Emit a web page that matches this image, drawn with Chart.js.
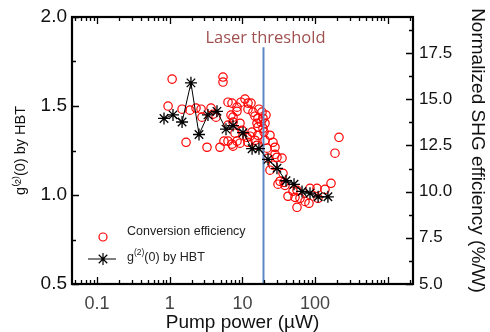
<!DOCTYPE html>
<html>
<head>
<meta charset="utf-8">
<script src="https://cdn.jsdelivr.net/npm/chart.js@4/dist/chart.umd.min.js"></script>
<style>
  html, body { margin: 0; padding: 0; background: #fff; }
  canvas { display: block; }
</style>
</head>
<body>
<canvas id="myCanvas" width="490" height="332"></canvas>
<script>
'use strict';

// g2(0) measured by HBT (left axis)
const hbtPower = [0.835, 1.11, 1.48, 1.96, 2.53, 3.36, 4.47, 5.95, 7.43, 10.2, 13.6, 16.9, 22.5, 29.9, 39.8, 51.3, 66.1, 85.1, 110, 150];
const hbtG2 = [1.43, 1.45, 1.41, 1.63, 1.34, 1.45, 1.47, 1.37, 1.39, 1.35, 1.26, 1.26, 1.20, 1.15, 1.08, 1.06, 1.02, 1.01, 0.99, 0.99];

// conversion efficiency (right axis)
const shgPower = [
  1.08, 0.95, 1.48, 1.68, 1.90, 2.30, 2.70, 2.78, 3.26, 3.70, 3.94, 4.34, 4.92, 5.41, 5.41, 6.34, 5.58,
  7.43, 7.19, 8.43, 9.57, 10.86, 11.94, 11.94, 13.13, 8.43, 6.97, 7.43, 6.34, 9.27, 9.87, 7.91, 6.34,
  7.19, 8.43, 7.43, 9.27, 11.94, 11.57, 12.72, 13.55,
  13.99, 14.90, 16.39, 16.92, 18.60, 19.20, 21.12, 15.88, 18.03, 16.39, 20.46, 19.20, 19.82, 16.39,
  23.97, 20.46, 14.90, 15.88, 26.37, 28.08, 21.80, 28.08, 22.50, 29.92, 35.05, 26.37, 23.97,
  36.19, 32.90, 37.35, 30.9, 42.39, 49.66, 56.36, 61.98, 72.62, 85.09, 82.4, 106.2, 109.6, 136.8,
  165.5, 38.55, 52.90, 56.36, 187.8, 213.2
];
const shgEff = [
  16.09, 14.63, 14.46, 12.67, 14.41, 14.52, 14.46, 14.03, 12.40, 14.52, 14.19, 14.03, 12.40, 16.20, 15.93, 14.84, 12.73,
  14.03, 14.79, 14.57, 14.84, 15.01, 14.79, 14.46, 14.79, 14.35, 14.14, 13.76, 13.60, 13.70, 13.32, 13.16, 12.73,
  12.57, 12.73, 12.46, 12.62, 12.67, 12.94, 13.00, 13.22,
  14.30, 14.08, 13.97, 14.46, 14.30, 13.97, 14.14, 13.70, 13.76, 13.49, 13.70, 13.43, 13.22, 13.05,
  13.05, 12.78, 12.78, 12.51, 12.67, 12.40, 12.35, 12.02, 11.81, 11.86, 11.81, 11.43, 11.16,
  10.99, 10.56, 10.50, 10.40, 9.75, 10.02, 9.15, 9.64, 9.47, 10.18, 9.37, 10.18, 9.64, 10.12,
  10.45, 10.34, 9.69, 10.07, 12.08, 12.94
];

const xTicks = [0.1, 1, 10, 100];
const leftTicks = [0.5, 1.0, 1.5, 2.0];
const rightTicks = [5, 7.5, 10, 12.5, 15, 17.5];
const thresholdPower = 19.5;
const thresholdG2 = [0.5, 1.83];

const fontFamily = '"Liberation Sans", Arial, Helvetica, sans-serif';
Chart.defaults.font.family = fontFamily;

function toPoints(xs, ys) {
  let pts = [];
  for (let i = 0; i < xs.length; i++) {
    pts.push({ x: xs[i], y: ys[i] });
  }
  return pts;
}

// box frame with inward ticks on all four sides
const frameTicks = {
  id: 'frameTicks',
  afterDatasetsDraw(chart) {
    const ctx = chart.ctx;
    const a = chart.chartArea;
    const xs = chart.scales.x;
    const yl = chart.scales.y;
    const yr = chart.scales.y2;
    ctx.save();
    ctx.strokeStyle = '#000';
    ctx.lineWidth = 1.3;
    ctx.beginPath();
    for (let d = 0.01; d < 10000; d *= 10) {
      for (let m = 1; m < 10; m++) {
        const v = m * d;
        if (v < xs.min || v > xs.max) continue;
        const px = Math.round(xs.getPixelForValue(v)) + 0.5;
        const len = m === 1 ? 7 : 4;
        ctx.moveTo(px, a.bottom);
        ctx.lineTo(px, a.bottom - len);
        ctx.moveTo(px, a.top);
        ctx.lineTo(px, a.top + len);
      }
    }
    for (let v = 0.5; v <= 2.0001; v += 0.25) {
      const py = Math.round(yl.getPixelForValue(v)) + 0.5;
      const len = Math.abs(v * 2 - Math.round(v * 2)) < 0.01 ? 7 : 4;
      ctx.moveTo(a.left, py);
      ctx.lineTo(a.left + len, py);
    }
    for (let v = 5; v <= yr.max; v += 1.25) {
      const py = Math.round(yr.getPixelForValue(v)) + 0.5;
      const len = Math.abs(v / 2.5 - Math.round(v / 2.5)) < 0.01 ? 7 : 4;
      ctx.moveTo(a.right, py);
      ctx.lineTo(a.right - len, py);
    }
    ctx.stroke();
    ctx.lineWidth = 2.2;
    ctx.strokeRect(a.left, a.top, a.right - a.left, a.bottom - a.top);

    // laser threshold label
    const tx = xs.getPixelForValue(thresholdPower);
    ctx.fillStyle = '#a0504f';
    ctx.font = '16.5px "Open Sans", "Liberation Sans", sans-serif';
    ctx.textAlign = 'center';
    ctx.textBaseline = 'alphabetic';
    ctx.fillText('Laser threshold', tx + 2, a.top + 26);

    // legend inside plot
    const lx = a.left + 31;
    ctx.strokeStyle = '#ff0000';
    ctx.lineWidth = 1.2;
    ctx.beginPath();
    ctx.arc(lx, a.top + 220, 4, 0, Math.PI * 2);
    ctx.stroke();

    const sy = a.top + 242;
    ctx.strokeStyle = '#000';
    ctx.lineWidth = 1.2;
    ctx.beginPath();
    ctx.moveTo(lx - 15, sy);
    ctx.lineTo(lx + 13, sy);
    const r = 6;
    const k = r * Math.SQRT1_2;
    ctx.moveTo(lx, sy - r); ctx.lineTo(lx, sy + r);
    ctx.moveTo(lx - k, sy - k); ctx.lineTo(lx + k, sy + k);
    ctx.moveTo(lx - k, sy + k); ctx.lineTo(lx + k, sy - k);
    ctx.stroke();

    ctx.fillStyle = '#222';
    ctx.textAlign = 'left';
    ctx.textBaseline = 'middle';
    ctx.font = '12.5px ' + fontFamily;
    ctx.fillText('Conversion efficiency', a.left + 55, a.top + 215);
    let tx2 = a.left + 55;
    ctx.fillText('g', tx2, sy - 1);
    tx2 += ctx.measureText('g').width;
    ctx.font = '8.5px ' + fontFamily;
    ctx.fillText('(2)', tx2, sy - 6);
    tx2 += ctx.measureText('(2)').width;
    ctx.font = '12.5px ' + fontFamily;
    ctx.fillText('(0) by HBT', tx2, sy - 1);
    ctx.restore();
  }
};

const data = {
  datasets: [
    {
      label: 'g(2)(0) by HBT',
      data: toPoints(hbtPower, hbtG2),
      yAxisID: 'y',
      showLine: true,
      borderColor: '#000',
      borderWidth: 1,
      pointStyle: 'star',
      pointRadius: 6,
      pointBorderWidth: 1.3,
      pointBorderColor: '#000',
      pointBackgroundColor: '#000'
    },
    {
      label: 'threshold',
      data: [{ x: thresholdPower, y: thresholdG2[0] }, { x: thresholdPower, y: thresholdG2[1] }],
      yAxisID: 'y',
      showLine: true,
      borderColor: '#5a86c4',
      borderWidth: 2,
      pointRadius: 0
    },
    {
      label: 'Conversion efficiency',
      data: toPoints(shgPower, shgEff),
      yAxisID: 'y2',
      showLine: false,
      pointStyle: 'circle',
      pointRadius: 4.2,
      pointBorderWidth: 1.2,
      pointBorderColor: '#ff0000',
      pointBackgroundColor: 'rgba(0,0,0,0)'
    }
  ]
};

const config = {
  type: 'scatter',
  data: data,
  options: {
    responsive: false,
    animation: false,
    devicePixelRatio: 1,
    layout: { padding: { top: 17, left: 0, right: 0, bottom: 0 } },
    plugins: {
      legend: { display: false },
      tooltip: { enabled: false }
    },
    scales: {
      x: {
        type: 'logarithmic',
        min: 0.0453,
        max: 2222,
        afterBuildTicks: (s) => { s.ticks = xTicks.map(v => ({ value: v })); },
        afterFit: (s) => { s.height = 48; },
        grid: { display: false, drawTicks: false },
        border: { display: false },
        ticks: {
          autoSkip: false,
          maxRotation: 0,
          padding: 9,
          color: '#444',
          font: { size: 18 },
          callback: (v) => String(v)
        },
        title: {
          display: true,
          text: 'Pump power (µW)',
          color: '#111',
          font: { size: 19, lineHeight: 1.0 },
          padding: { top: 0, bottom: 0 }
        }
      },
      y: {
        position: 'left',
        min: 0.5,
        max: 2.0,
        afterBuildTicks: (s) => { s.ticks = leftTicks.map(v => ({ value: v })); },
        afterFit: (s) => { s.width = 72; },
        grid: { display: false, drawTicks: false },
        border: { display: false },
        ticks: {
          padding: 5,
          color: '#111',
          font: { size: 19 },
          callback: (v) => Number(v).toFixed(1)
        },
        title: {
          display: true,
          text: 'g⁽²⁾(0) by HBT',
          color: '#111',
          font: { size: 14.5 },
          padding: { top: 12, bottom: 0 }
        }
      },
      y2: {
        position: 'right',
        min: 5,
        max: 19.45,
        afterBuildTicks: (s) => { s.ticks = rightTicks.map(v => ({ value: v })); },
        afterFit: (s) => { s.width = 77; },
        grid: { display: false, drawTicks: false },
        border: { display: false },
        ticks: {
          padding: 6,
          color: '#111',
          font: { size: 17 },
          callback: (v) => Number(v).toFixed(1)
        },
        title: {
          display: true,
          text: 'Normalized SHG efficiency (%/W)',
          color: '#111',
          font: { size: 19 },
          padding: { top: 1, bottom: 0 }
        }
      }
    }
  },
  plugins: [frameTicks]
};

const chart = document.getElementById('myCanvas');
const myChart = new Chart(chart, config);
</script>
</body>
</html>
